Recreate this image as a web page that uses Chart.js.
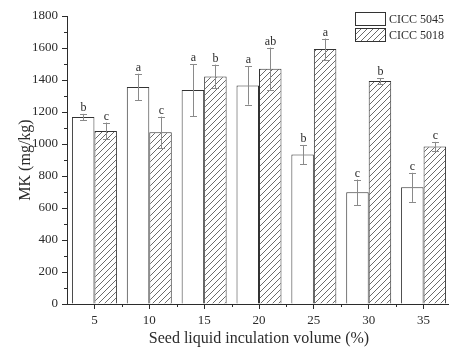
<!DOCTYPE html>
<html>
<head>
<meta charset="utf-8">
<script src="https://cdn.jsdelivr.net/npm/chart.js@4/dist/chart.umd.min.js"></script>
<style>
  html, body { margin: 0; padding: 0; background: #fff; overflow: hidden; }
  #wrap { width: 451px; height: 348px; position: relative; }
</style>
</head>
<body>
<div id="wrap"><canvas id="c"></canvas></div>
<script>
// Inoculation volume (%) categories
const categories = ['5', '10', '15', '20', '25', '30', '35'];

// MK content (mg/kg) for each strain
const mk5045 = [1169, 1356, 1337, 1366, 934, 698, 729];
const mk5018 = [1082, 1073, 1422, 1470, 1593, 1393, 984];

// Standard deviations
const sd5045 = [19, 83, 162, 120, 60, 80, 91];
const sd5018 = [52, 98, 74, 133, 66, 17, 29];

// Significance letters
const sig5045 = ['b', 'a', 'a', 'a', 'b', 'c', 'c'];
const sig5018 = ['c', 'c', 'b', 'ab', 'a', 'b', 'c'];

const seriesNames = ['CICC 5045', 'CICC 5018'];
const yTicksMax = 1800;
const yStep = 200;

const SERIF = '"Liberation Serif", "Times New Roman", serif';
const INK = '#2b2b2b';

// Diagonal hatch fill
function makeHatch() {
  const s = 6;
  const pc = document.createElement('canvas');
  pc.width = s; pc.height = s;
  const g = pc.getContext('2d');
  g.fillStyle = '#ffffff';
  g.fillRect(0, 0, s, s);
  g.strokeStyle = '#5a5a5a';
  g.lineWidth = 0.9;
  g.beginPath();
  g.moveTo(0, s); g.lineTo(s, 0);
  g.moveTo(-1, 1); g.lineTo(1, -1);
  g.moveTo(s - 1, s + 1); g.lineTo(s + 1, s - 1);
  g.stroke();
  return g.createPattern(pc, 'repeat');
}
const hatch = makeHatch();

// Error bars and significance letters over every bar
const errorBarPlugin = {
  id: 'errorBars',
  afterDatasetsDraw(chart) {
    const ctx = chart.ctx;
    const y = chart.scales.y;
    ctx.save();
    chart.data.datasets.forEach((ds, di) => {
      const meta = chart.getDatasetMeta(di);
      meta.data.forEach((bar, i) => {
        const v = ds.data[i];
        const e = ds.sd[i];
        const yt = y.getPixelForValue(v + e);
        const yb = y.getPixelForValue(v - e);
        const x = Math.round(bar.x) + 0.5;
        ctx.strokeStyle = '#8a8a8a';
        ctx.lineWidth = 1;
        ctx.beginPath();
        ctx.moveTo(x, yt); ctx.lineTo(x, yb);
        ctx.moveTo(x - 3.5, Math.round(yt) + 0.5); ctx.lineTo(x + 3.5, Math.round(yt) + 0.5);
        ctx.moveTo(x - 3.5, Math.round(yb) + 0.5); ctx.lineTo(x + 3.5, Math.round(yb) + 0.5);
        ctx.stroke();
        ctx.fillStyle = INK;
        ctx.font = '12px ' + SERIF;
        ctx.textAlign = 'center';
        ctx.textBaseline = 'alphabetic';
        ctx.fillText(ds.sig[i], x, yt - 3);
      });
    });
    ctx.restore();
  }
};

// Minor tick marks on both axes
const minorTickPlugin = {
  id: 'minorTicks',
  afterDraw(chart) {
    const ctx = chart.ctx;
    const xs = chart.scales.x, ys = chart.scales.y;
    const area = chart.chartArea;
    ctx.save();
    ctx.strokeStyle = INK;
    ctx.lineWidth = 1;
    ctx.beginPath();
    for (let v = yStep / 2; v < yTicksMax; v += yStep) {
      const py = Math.round(ys.getPixelForValue(v)) + 0.5;
      ctx.moveTo(area.left - 3, py); ctx.lineTo(area.left, py);
    }
    for (let i = 0; i < categories.length; i++) {
      const px = Math.round(xs.getPixelForValue(i + 0.5)) + 0.5;
      if (px > area.right) continue;
      ctx.moveTo(px, area.bottom); ctx.lineTo(px, area.bottom + 3);
    }
    ctx.stroke();
    ctx.restore();
  }
};

// Legend drawn in the upper right corner from the dataset styles
const cornerLegendPlugin = {
  id: 'cornerLegend',
  afterDraw(chart) {
    const ctx = chart.ctx;
    ctx.save();
    const x0 = 355.5, y0 = 12.5, bw = 30, bh = 13, gap = 16;
    chart.data.datasets.forEach((ds, i) => {
      const yy = y0 + i * gap;
      ctx.fillStyle = ds.backgroundColor;
      ctx.fillRect(x0, yy, bw, bh);
      ctx.strokeStyle = ds.borderColor;
      ctx.lineWidth = 1;
      ctx.strokeRect(x0, yy, bw, bh);
      ctx.fillStyle = INK;
      ctx.font = '12px ' + SERIF;
      ctx.textAlign = 'left';
      ctx.textBaseline = 'middle';
      ctx.fillText(ds.label, x0 + bw + 3.5, yy + bh / 2 + 0.5);
    });
    ctx.restore();
  }
};

new Chart(document.getElementById('c'), {
  type: 'bar',
  data: {
    labels: categories,
    datasets: [
      {
        label: seriesNames[0],
        data: mk5045,
        sd: sd5045,
        sig: sig5045,
        backgroundColor: '#ffffff',
        borderColor: '#333333',
        borderWidth: 1,
        borderSkipped: 'bottom'
      },
      {
        label: seriesNames[1],
        data: mk5018,
        sd: sd5018,
        sig: sig5018,
        backgroundColor: hatch,
        borderColor: '#333333',
        borderWidth: 1,
        borderSkipped: 'bottom'
      }
    ]
  },
  options: {
    responsive: true,
    maintainAspectRatio: false,
    animation: false,
    devicePixelRatio: 1,
    layout: { padding: { left: 0, right: 0, top: 16, bottom: 0 } },
    datasets: {
      bar: { categoryPercentage: 0.82, barPercentage: 1.0 }
    },
    plugins: {
      legend: { display: false },
      tooltip: { enabled: false }
    },
    scales: {
      x: {
        grid: {
          offset: false,
          drawOnChartArea: false,
          drawTicks: true,
          tickLength: 5,
          color: INK
        },
        border: { display: true, color: INK, width: 1 },
        ticks: {
          color: INK,
          font: { family: SERIF, size: 13 },
          padding: 4,
          maxRotation: 0
        },
        title: {
          display: true,
          text: 'Seed liquid inculation volume (%)',
          color: INK,
          font: { family: SERIF, size: 16 },
          padding: { top: 0, bottom: 0 }
        },
        afterFit(scale) { scale.height = 44; }
      },
      y: {
        min: 0,
        max: yTicksMax,
        ticks: {
          stepSize: yStep,
          color: INK,
          font: { family: SERIF, size: 13 },
          padding: 4,
          callback: (value) => String(value)
        },
        grid: {
          drawOnChartArea: false,
          drawTicks: true,
          tickLength: 5,
          color: INK
        },
        border: { display: true, color: INK, width: 1 },
        title: {
          display: true,
          text: 'MK (mg/kg)',
          color: INK,
          font: { family: SERIF, size: 16 },
          padding: { top: 16, bottom: 0 }
        },
        afterFit(scale) { scale.width = 67; }
      }
    }
  },
  plugins: [errorBarPlugin, minorTickPlugin, cornerLegendPlugin]
});
</script>
</body>
</html>
